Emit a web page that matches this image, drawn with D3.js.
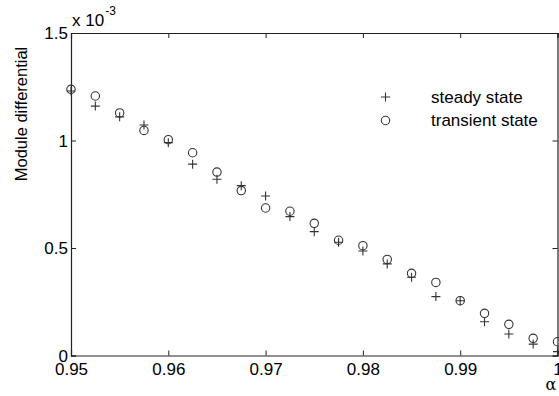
<!DOCTYPE html>
<html>
<head>
<meta charset="utf-8">
<script src="https://cdn.jsdelivr.net/npm/d3@7"></script>
<style>
  body { margin: 0; background: #fff; }
  text { font-family: Arial, "Liberation Sans", sans-serif; fill: #000; }
</style>
</head>
<body>
<div id="chart"></div>
<script>
// alpha values (x axis)
var alpha = [0.95, 0.9525, 0.955, 0.9575, 0.96, 0.9625, 0.965, 0.9675, 0.97, 0.9725,
    0.975, 0.9775, 0.98, 0.9825, 0.985, 0.9875, 0.99, 0.9925, 0.995, 0.9975, 1.0];
// module differential, x 10^-3
var steady = [1.23, 1.16, 1.11, 1.072, 0.99, 0.89, 0.82, 0.79, 0.742, 0.646,
    0.576, 0.527, 0.486, 0.426, 0.364, 0.274, 0.255, 0.157, 0.10, 0.053, 0.018];
var transient = [1.238, 1.207, 1.128, 1.047, 1.004, 0.943, 0.853, 0.767, 0.686, 0.671,
    0.615, 0.536, 0.511, 0.447, 0.382, 0.340, 0.255, 0.196, 0.145, 0.080, 0.064];
var xTicks = [0.95, 0.96, 0.97, 0.98, 0.99, 1.0];
var yTicks = [0, 0.5, 1, 1.5];

var width = 559, height = 396;
var margin = {top: 33, right: 1.5, bottom: 40.5, left: 71};

var svg = d3.select('#chart').append('svg')
    .attr('width', width)
    .attr('height', height);

var x = d3.scaleLinear().domain([0.95, 1.0]).range([margin.left, width - margin.right]);
var y = d3.scaleLinear().domain([0, 1.5]).range([height - margin.bottom, margin.top]);

var axisColor = '#222';
var fmt = function(d) { return d === 1 ? '1' : d3.format('~g')(d); };

// bottom axis
var gx = svg.append('g')
    .attr('transform', 'translate(0,' + y(0) + ')')
    .call(d3.axisBottom(x).tickValues(xTicks).tickSize(-5).tickPadding(7).tickFormat(fmt));
// top axis (ticks only)
var gxt = svg.append('g')
    .attr('transform', 'translate(0,' + y(1.5) + ')')
    .call(d3.axisTop(x).tickValues(xTicks).tickSize(-5).tickFormat(''));
// left axis
var gy = svg.append('g')
    .attr('transform', 'translate(' + x(0.95) + ',0)')
    .call(d3.axisLeft(y).tickValues(yTicks).tickSize(-5).tickPadding(3).tickFormat(fmt));
// right axis (ticks only)
var gyr = svg.append('g')
    .attr('transform', 'translate(' + x(1.0) + ',0)')
    .call(d3.axisRight(y).tickValues(yTicks).tickSize(-5).tickFormat(''));

[gx, gxt, gy, gyr].forEach(function(g) {
    g.select('.domain').attr('stroke', axisColor).attr('stroke-width', 1.2);
    g.selectAll('.tick line').attr('stroke', axisColor);
    g.selectAll('.tick text')
        .style('font-size', '17px')
        .style('font-family', 'Arial, "Liberation Sans", sans-serif')
        .attr('fill', '#000');
});
gx.selectAll('.tick text').attr('dy', '0.71em');
gy.selectAll('.tick text').attr('dy', '0.35em');

// exponent label
var expo = svg.append('text')
    .attr('x', 72)
    .attr('y', 26)
    .style('font-size', '17px');
expo.append('tspan').text('x 10');
expo.append('tspan').attr('dy', -11).attr('dx', 1).style('font-size', '12px').text('-3');

// y label
svg.append('text')
    .attr('transform', 'translate(26.5,114) rotate(-90)')
    .attr('text-anchor', 'middle')
    .style('font-size', '16.5px')
    .text('Module differential');

// x label
svg.append('text')
    .attr('x', 551)
    .attr('y', 390)
    .attr('text-anchor', 'middle')
    .style('font-size', '16px')
    .style('font-family', '"DejaVu Serif", serif')
    .text('\u03b1');

var markColor = '#333';

// steady state: plus markers
svg.append('g').selectAll('path')
    .data(steady)
    .enter().append('path')
    .attr('d', function(d, i) {
        var cx = x(alpha[i]), cy = y(d);
        return 'M' + (cx - 4.5) + ',' + cy + 'H' + (cx + 4.5) +
               'M' + cx + ',' + (cy - 4.5) + 'V' + (cy + 4.5);
    })
    .attr('stroke', markColor)
    .attr('stroke-width', 1.1)
    .attr('fill', 'none');

// transient state: circle markers
svg.append('g').selectAll('circle')
    .data(transient)
    .enter().append('circle')
    .attr('cx', function(d, i) { return x(alpha[i]); })
    .attr('cy', function(d) { return y(d); })
    .attr('r', 4.2)
    .attr('stroke', markColor)
    .attr('stroke-width', 1.1)
    .attr('fill', 'none');

// legend
var legend = svg.append('g');
legend.append('path')
    .attr('d', 'M381,97H390M385.5,92.5V101.5')
    .attr('stroke', markColor).attr('stroke-width', 1.1);
legend.append('circle')
    .attr('cx', 385.5).attr('cy', 120.5).attr('r', 4.2)
    .attr('stroke', markColor).attr('stroke-width', 1.1).attr('fill', 'none');
legend.append('text').attr('x', 431).attr('y', 103).style('font-size', '17px').text('steady state');
legend.append('text').attr('x', 431).attr('y', 126).style('font-size', '17px').text('transient state');
</script>
</body>
</html>
